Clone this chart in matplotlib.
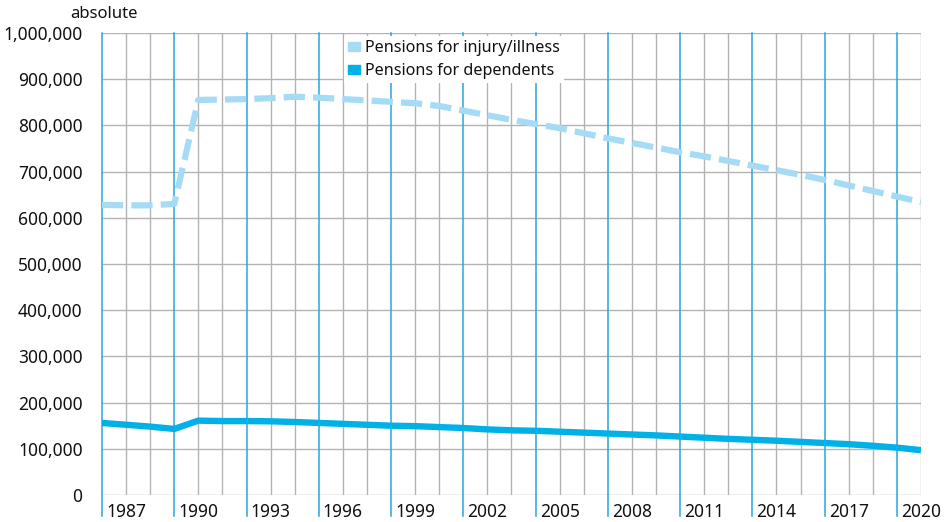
import matplotlib.pyplot as plt
from matplotlib.patches import Patch
from matplotlib.ticker import FuncFormatter

years = list(range(1986, 2021))
injury_illness = [
    628000, 627000, 627000, 630000, 855000, 856000, 857000, 859000, 862000, 860000,
    857000, 854000, 851000, 848000, 842000, 832000, 822000, 812000, 803000, 794000,
    783000, 772000, 762000, 752000, 742000, 733000, 723000, 713000, 703000, 693000,
    682000, 670000, 658000, 646000, 634000,
]
dependents = [
    156000, 152000, 148000, 143000, 161000, 160000, 160000, 159500, 158000, 156000,
    154000, 152000, 150000, 149000, 147000, 145000, 142000, 140000, 139000, 137000,
    135000, 133000, 131000, 129000, 126500, 124000, 121500, 119500, 117500, 115000,
    112500, 110000, 106500, 102500, 97000,
]
label_years = list(range(1987, 2021, 3))
major_years = list(range(1986, 2021, 3))

LIGHT = "#a6dbf6"
DARK = "#00b1e7"
GRID = "#b3b3b3"
MAJ = "#2aa5dd"
TEXT = "#111111"

plt.rcParams["font.family"] = ["Noto Sans", "DejaVu Sans"]

fig = plt.figure(figsize=(9.52, 5.22), dpi=100)
ax = fig.add_axes([102 / 952, 27 / 522, 819 / 952, 462 / 522])

ax.set_xlim(1986, 2020)
ax.set_ylim(0, 1000000)

# thin grey grid for every year and every 100,000
for yr in years:
    if yr not in major_years:
        ax.axvline(yr, color=GRID, lw=1.0, zorder=1)
for v in range(0, 1000001, 100000):
    ax.axhline(v, color=GRID, lw=1.0, zorder=1)
# blue separators every third year, running down past the axis
for yr in major_years:
    ax.axvline(yr, ymin=-0.045, ymax=1, color=MAJ, lw=1.1, zorder=2, clip_on=False)

ax.plot(years, injury_illness, color=LIGHT, lw=4.5, dashes=(3.4, 1.3), zorder=3,
        solid_capstyle="butt", dash_capstyle="butt")
ax.plot(years, dependents, color=DARK, lw=4.6, zorder=3, solid_capstyle="butt")

for s in ax.spines.values():
    s.set_visible(False)

ax.set_xticks(label_years)
ax.set_xticklabels([str(y) for y in label_years])
ax.set_yticks(range(0, 1000001, 100000))
ax.yaxis.set_major_formatter(FuncFormatter(lambda v, p: f"{int(v):,}"))
ax.tick_params(axis="x", length=0, pad=6, labelsize=12.5, colors=TEXT)
ax.tick_params(axis="y", length=0, pad=14, labelsize=12.5, colors=TEXT)

fig.text(70 / 952, 1 - 14 / 522, "absolute", fontsize=12, va="center", ha="left",
         color=TEXT)

handles = [Patch(color=LIGHT, label="Pensions for injury/illness"),
           Patch(color=DARK, label="Pensions for dependents")]
leg = ax.legend(handles=handles, loc="upper left", bbox_to_anchor=(344 / 952, 1 - 36 / 522),
                bbox_transform=fig.transFigure, frameon=True, fancybox=False,
                edgecolor="none", framealpha=1, fontsize=11.6, handlelength=0.75,
                handleheight=0.45, handletextpad=0.3, labelspacing=0.45,
                borderpad=0.25, borderaxespad=0)
for t in leg.get_texts():
    t.set_color(TEXT)
leg.set_zorder(5)

fig.savefig("out.png", dpi=100)
